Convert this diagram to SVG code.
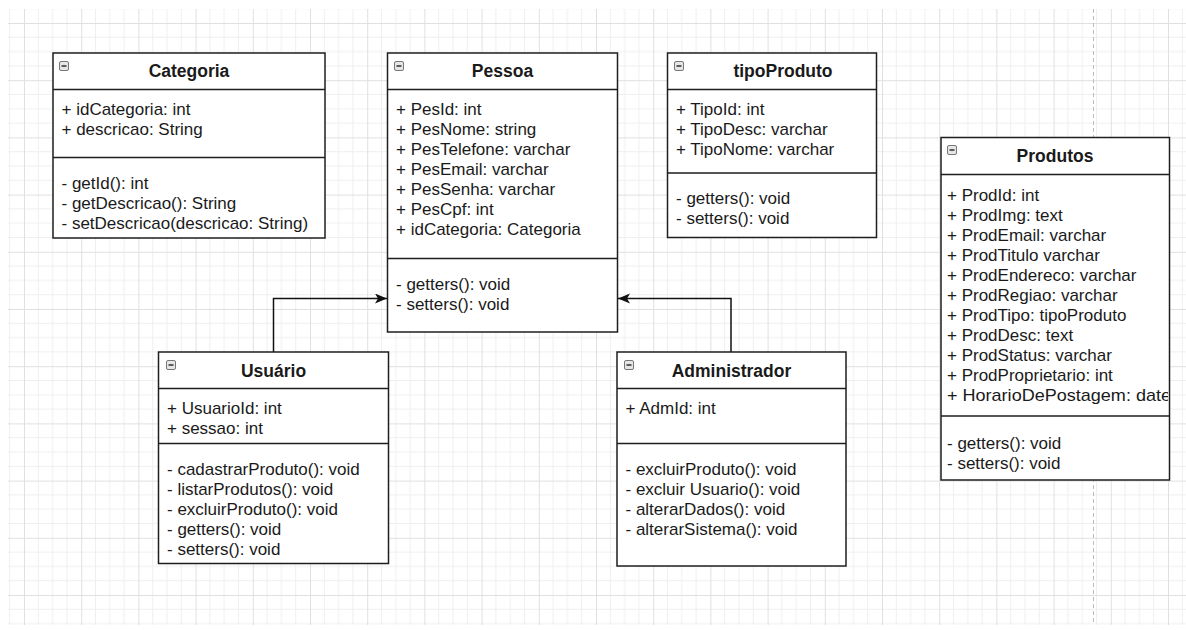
<svg xmlns="http://www.w3.org/2000/svg" width="1186" height="630" viewBox="0 0 1186 630">
<defs>
<pattern id="grid" patternUnits="userSpaceOnUse" x="24" y="23" width="57.2" height="57.2">
<path d="M14.3 0V57.2M28.6 0V57.2M42.9 0V57.2M0 14.3H57.2M0 28.6H57.2M0 42.9H57.2" stroke="#efefef" stroke-width="1" fill="none"/>
<path d="M0.5 0V57.2M0 0.5H57.2" stroke="#e0e0e0" stroke-width="1" fill="none"/>
</pattern>
<marker id="arr" markerUnits="userSpaceOnUse" markerWidth="13" markerHeight="11" refX="12" refY="5" orient="auto">
<path d="M0,0 L12,5 L0,10 L3,5 z" fill="#111"/>
</marker>
<symbol id="tog" overflow="visible">
<rect x="0.5" y="0.5" width="9" height="9" rx="1.5" fill="#e6e6e6" stroke="#777" stroke-width="1"/>
<path d="M2.5 5H7.5" stroke="#222" stroke-width="1.4"/>
</symbol>
<clipPath id="clipProd"><rect x="941" y="137.5" width="227" height="342"/></clipPath>
</defs>
<style>
.box{fill:#fff;stroke:#1e1e1e;stroke-width:1.5}
.sep{stroke:#1e1e1e;stroke-width:1.5;fill:none}
.t{font-family:"Liberation Sans",Arial,sans-serif;font-size:17.5px;font-weight:bold;fill:#1a1a1a;text-anchor:middle}
.m{font-family:"Liberation Sans",Arial,sans-serif;font-size:17px;fill:#1a1a1a}
.edge{stroke:#111;stroke-width:1.5;fill:none}
</style>
<rect width="1186" height="630" fill="#fff"/>
<rect x="8" y="9" width="1178" height="616" fill="url(#grid)"/>
<path d="M1093.5 9V625" stroke="#bdbdbd" stroke-width="1" stroke-dasharray="4 3"/>

<g id="connectors">
<path class="edge" d="M273.5 352V298.5H387" marker-end="url(#arr)"/>
<path class="edge" d="M731 352V298.5H618" marker-end="url(#arr)"/>
</g>

<g id="categoria">
<rect class="box" x="53" y="53" width="272" height="185"/>
<path class="sep" d="M53 89.5H325M53 157.5H325"/>
<use href="#tog" x="59" y="61"/>
<text class="t" x="189" y="77">Categoria</text>
<text class="m" x="61.5" y="115">+ idCategoria: int</text>
<text class="m" x="61.5" y="135">+ descricao: String</text>
<text class="m" x="61.5" y="188.5">- getId(): int</text>
<text class="m" x="61.5" y="208.5">- getDescricao(): String</text>
<text class="m" x="61.5" y="228.5">- setDescricao(descricao: String)</text>
</g>

<g id="pessoa">
<rect class="box" x="387.5" y="53" width="230" height="279"/>
<path class="sep" d="M387.5 89.5H617.5M387.5 258.5H617.5"/>
<use href="#tog" x="394" y="61"/>
<text class="t" x="502.5" y="77">Pessoa</text>
<text class="m" x="396" y="114.5">+ PesId: int</text>
<text class="m" x="396" y="134.5">+ PesNome: string</text>
<text class="m" x="396" y="154.5">+ PesTelefone: varchar</text>
<text class="m" x="396" y="174.5">+ PesEmail: varchar</text>
<text class="m" x="396" y="194.5">+ PesSenha: varchar</text>
<text class="m" x="396" y="214.5">+ PesCpf: int</text>
<text class="m" x="396" y="234.5">+ idCategoria: Categoria</text>
<text class="m" x="396" y="289.5">- getters(): void</text>
<text class="m" x="396" y="309.5">- setters(): void</text>
</g>

<g id="tipoProduto">
<rect class="box" x="667.5" y="53" width="209" height="184.5"/>
<path class="sep" d="M667.5 89.5H876.5M667.5 173H876.5"/>
<use href="#tog" x="674" y="61"/>
<text class="t" x="783" y="77">tipoProduto</text>
<text class="m" x="676" y="114.5">+ TipoId: int</text>
<text class="m" x="676" y="134.5">+ TipoDesc: varchar</text>
<text class="m" x="676" y="154.5">+ TipoNome: varchar</text>
<text class="m" x="676" y="203.5">- getters(): void</text>
<text class="m" x="676" y="223.5">- setters(): void</text>
</g>

<g id="produtos">
<rect class="box" x="941" y="137.5" width="228.5" height="342.5"/>
<path class="sep" d="M941 174.5H1169.5M941 416H1169.5"/>
<use href="#tog" x="947" y="145"/>
<text class="t" x="1055" y="162">Produtos</text>
<g clip-path="url(#clipProd)">
<text class="m" x="947" y="200.5">+ ProdId: int</text>
<text class="m" x="947" y="220.5">+ ProdImg: text</text>
<text class="m" x="947" y="240.5">+ ProdEmail: varchar</text>
<text class="m" x="947" y="260.5">+ ProdTitulo varchar</text>
<text class="m" x="947" y="280.5">+ ProdEndereco: varchar</text>
<text class="m" x="947" y="300.5">+ ProdRegiao: varchar</text>
<text class="m" x="947" y="320.5">+ ProdTipo: tipoProduto</text>
<text class="m" x="947" y="340.5">+ ProdDesc: text</text>
<text class="m" x="947" y="360.5">+ ProdStatus: varchar</text>
<text class="m" x="947" y="380.5">+ ProdProprietario: int</text>
<text class="m" x="947" y="400.5" textLength="224" lengthAdjust="spacingAndGlyphs">+ HorarioDePostagem: date</text>
<text class="m" x="947" y="448.5">- getters(): void</text>
<text class="m" x="947" y="468.5">- setters(): void</text>
</g>
</g>

<g id="usuario">
<rect class="box" x="158.5" y="352" width="230" height="211.5"/>
<path class="sep" d="M158.5 388.5H388.5M158.5 443.5H388.5"/>
<use href="#tog" x="166" y="360"/>
<text class="t" x="273.5" y="377">Usuário</text>
<text class="m" x="167" y="413.5">+ UsuarioId: int</text>
<text class="m" x="167" y="433.5">+ sessao: int</text>
<text class="m" x="167" y="474.5">- cadastrarProduto(): void</text>
<text class="m" x="167" y="494.5">- listarProdutos(): void</text>
<text class="m" x="167" y="514.5">- excluirProduto(): void</text>
<text class="m" x="167" y="534.5">- getters(): void</text>
<text class="m" x="167" y="554.5">- setters(): void</text>
</g>

<g id="administrador">
<rect class="box" x="617" y="352" width="229" height="214"/>
<path class="sep" d="M617 388.5H846M617 443.5H846"/>
<use href="#tog" x="624" y="360"/>
<text class="t" x="731.5" y="377">Administrador</text>
<text class="m" x="625.5" y="413.5">+ AdmId: int</text>
<text class="m" x="625.5" y="474.5">- excluirProduto(): void</text>
<text class="m" x="625.5" y="494.5">- excluir Usuario(): void</text>
<text class="m" x="625.5" y="514.5">- alterarDados(): void</text>
<text class="m" x="625.5" y="534.5">- alterarSistema(): void</text>
</g>
</svg>
